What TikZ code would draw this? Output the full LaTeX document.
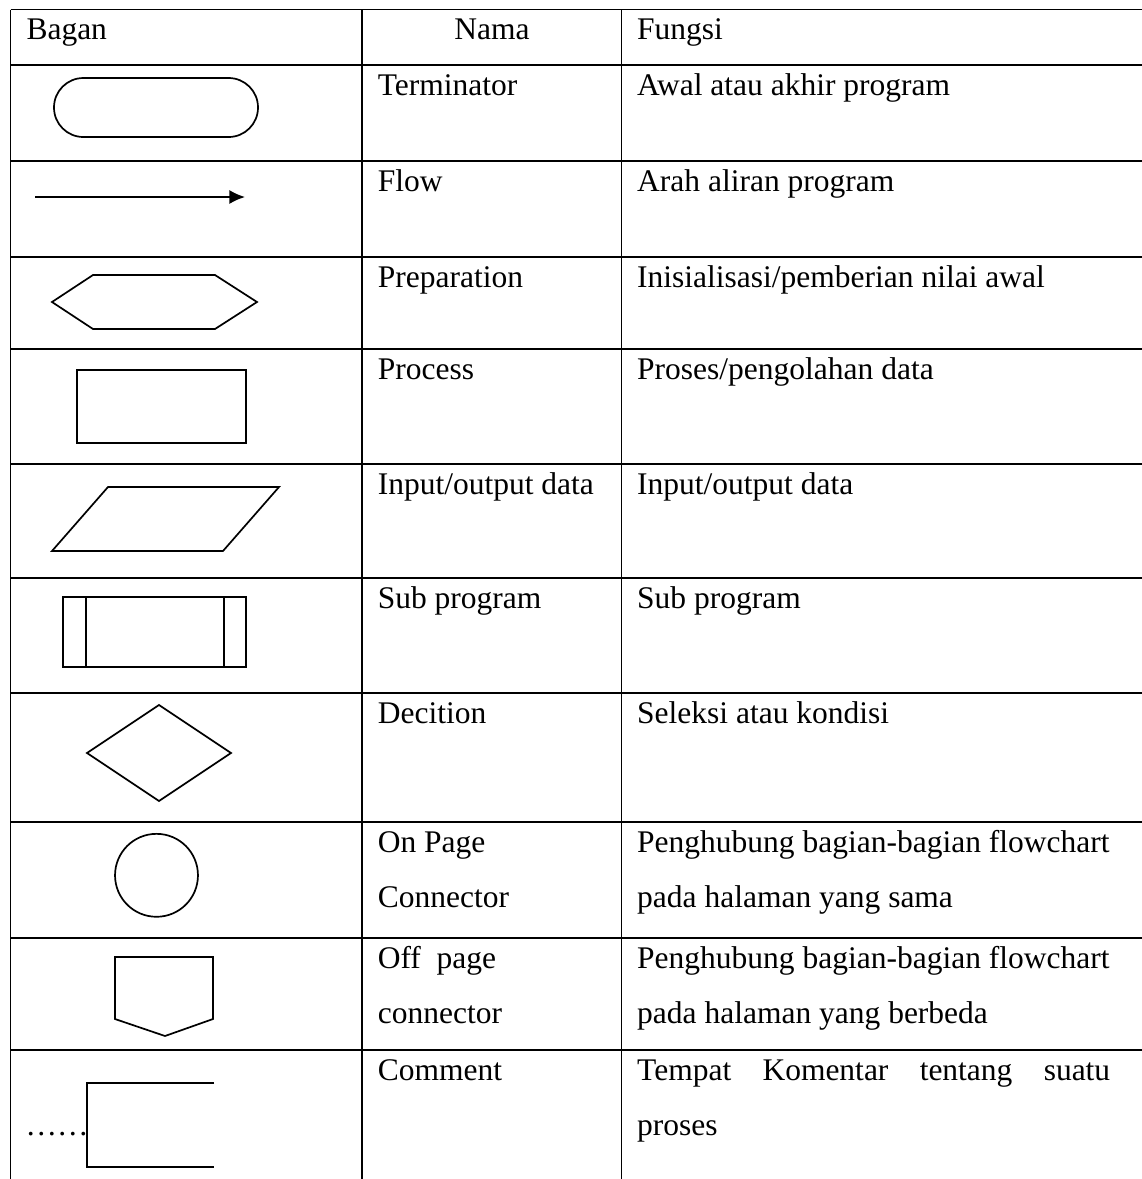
\documentclass[tikz,border=0pt]{standalone}
\usepackage{fontspec}
\setmainfont{Liberation Serif}
\usetikzlibrary{arrows.meta}

\begin{document}
\begin{tikzpicture}[x=0.381pt, y=-0.381pt, >={Latex[length=6pt,width=5.4pt]}]
	\tikzstyle{grid}=[line width=0.45pt]
	\tikzstyle{icon}=[line width=0.65pt, line join=miter]
	\tikzstyle{cell}=[anchor=base west, inner sep=0pt, font=\fontsize{12}{14}\selectfont]
	\useasboundingbox (0,0) rectangle (1142,1179);
	% % Table lines
	\foreach \y in {9.5,65,161,257,349,464,578,693,822,938,1050}
		\draw[grid] (10.7,\y) -- (1142,\y);
	\foreach \x in {10.7,362,621.5}
		\draw[grid] (\x,9.5) -- (\x,1179);
	% % Header
	\node[cell](hBagan) at (26,39.3) {Bagan};
	\node[cell, anchor=base](hNama) at (492,39.3) {Nama};
	\node[cell](hFungsi) at (636.7,39.3) {Fungsi};
	% % Names
	\node[cell](nmTerm) at (377.3,95) {Terminator};
	\node[cell](nmFlow) at (377.3,191) {Flow};
	\node[cell](nmPrep) at (377.3,287) {Preparation};
	\node[cell](nmProc) at (377.3,379) {Process};
	\node[cell](nmIO) at (377.3,494) {Input/output data};
	\node[cell](nmSub) at (377.3,608) {Sub program};
	\node[cell](nmDec) at (377.3,723) {Decition};
	\node[cell](nmOnA) at (377.3,852) {On Page};
	\node[cell](nmOnB) at (377.3,907) {Connector};
	\node[cell](nmOffA) at (377.3,968) {Off\ \ page};
	\node[cell](nmOffB) at (377.3,1023) {connector};
	\node[cell](nmCom) at (377.3,1080) {Comment};
	% % Functions
	\node[cell](fnTerm) at (636.7,95) {Awal atau akhir program};
	\node[cell](fnFlow) at (636.7,191) {Arah aliran program};
	\node[cell](fnPrep) at (636.7,287) {Inisialisasi/pemberian nilai awal};
	\node[cell](fnProc) at (636.7,379) {Proses/pengolahan data};
	\node[cell](fnIO) at (636.7,494) {Input/output data};
	\node[cell](fnSub) at (636.7,608) {Sub program};
	\node[cell](fnDec) at (636.7,723) {Seleksi atau kondisi};
	\node[cell](fnOnA) at (636.7,852) {Penghubung bagian-bagian flowchart};
	\node[cell](fnOnB) at (636.7,907) {pada halaman yang sama};
	\node[cell](fnOffA) at (636.7,968) {Penghubung bagian-bagian flowchart};
	\node[cell](fnOffB) at (636.7,1023) {pada halaman yang berbeda};
	\node[cell](fnComA) at (636.7,1080) {\makebox[180.2pt][s]{Tempat Komentar tentang suatu}};
	\node[cell](fnComB) at (636.7,1135) {proses};
	% % Symbols
	% terminator
	\draw[icon, rounded corners=11.2pt] (54,78) rectangle (258,137);
	% flow
	\coordinate (flowA) at (35,197);
	\coordinate (flowB) at (245,197);
	\draw[icon, ->] (flowA) -- (flowB);
	% preparation
	\draw[icon] (52,302) -- (93,275) -- (215,275) -- (257,302) -- (215,329) -- (93,329) -- cycle;
	% process
	\draw[icon] (77,370) rectangle (246,443);
	% input/output
	\draw[icon] (108,487) -- (279,487) -- (223,551) -- (52,551) -- cycle;
	% sub program
	\draw[icon] (63,597) rectangle (246,667);
	\draw[icon] (86,597) -- (86,667) (224,597) -- (224,667);
	% decision
	\draw[icon] (159,705) -- (231,753) -- (159,801) -- (87,753) -- cycle;
	% on page connector
	\draw[icon] (156.5,875.3) circle[radius=15.8pt];
	% off page connector
	\draw[icon] (115,957) -- (213,957) -- (213,1019) -- (165,1036) -- (115,1019) -- cycle;
	% comment
	\node[cell](comDots) at (25,1135) {……};
	\draw[icon] (214,1083) -- (87,1083) -- (87,1167) -- (214,1167);
\end{tikzpicture}
\end{document}
